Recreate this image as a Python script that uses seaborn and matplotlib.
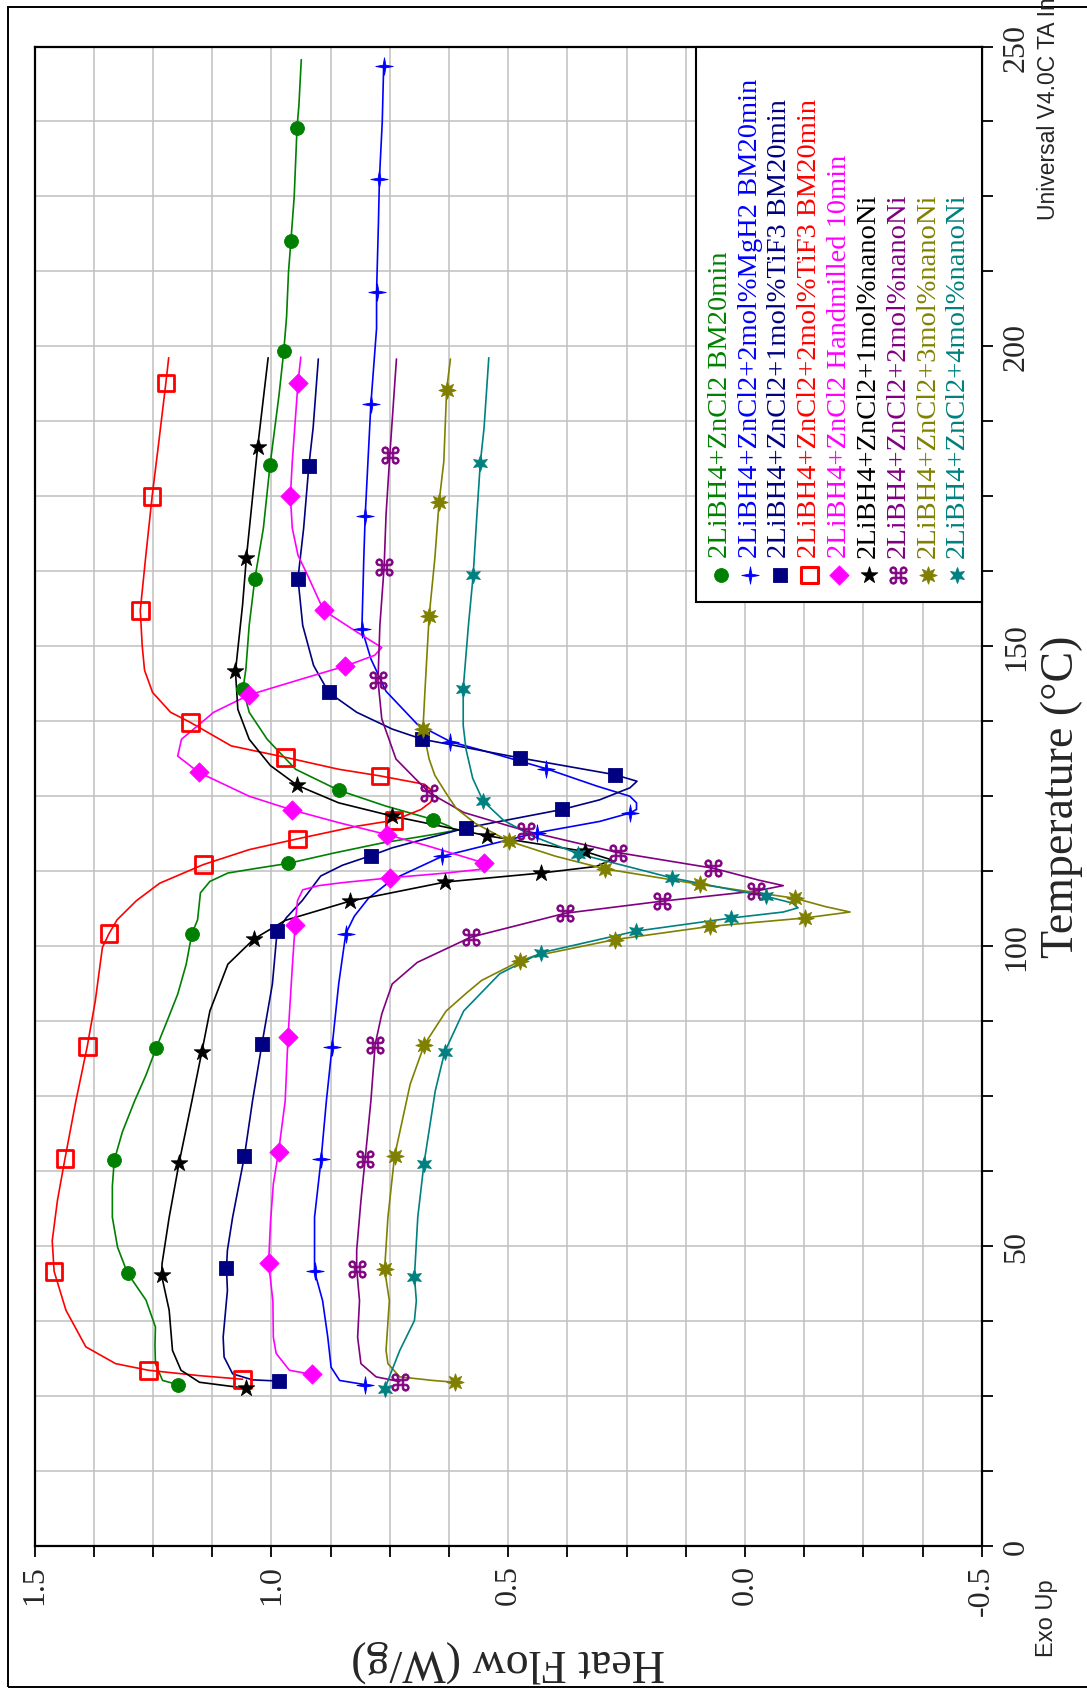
import numpy as np
import matplotlib
matplotlib.use("Agg")
import matplotlib.pyplot as plt
from matplotlib.path import Path
from matplotlib.patches import Rectangle
from matplotlib.ticker import MultipleLocator
import seaborn as sns

# ---------------- data (Temperature in degC, Heat Flow in W/g) ----------------
labels = ["2LiBH4+ZnCl2 BM20min",
          "2LiBH4+ZnCl2+2mol%MgH2 BM20min",
          "2LiBH4+ZnCl2+1mol%TiF3 BM20min",
          "2LiBH4+ZnCl2+2mol%TiF3 BM20min",
          "2LiBH4+ZnCl2 Handmilled 10min",
          "2LiBH4+ZnCl2+1mol%nanoNi",
          "2LiBH4+ZnCl2+2mol%nanoNi",
          "2LiBH4+ZnCl2+3mol%nanoNi",
          "2LiBH4+ZnCl2+4mol%nanoNi"]
colors = ["#008000", "#0000FF", "#000080", "#FF0000", "#FF00FF",
          "#000000", "#800080", "#808000", "#008080"]

g_T = [26.9, 27.6, 30.4, 33.5, 36.5, 41.0, 45.5, 49.8, 54.8, 60.0, 64.3, 69.0, 74.2, 78.5, 83.1, 88.0, 92.0,
       97.0, 102.1, 104.4, 108.9, 110.8, 112.2, 113.0, 113.8, 115.5, 117.2, 118.6, 119.3, 120.0, 121.1, 123.4,
       126.0, 129.5, 134.5, 139.0, 142.9, 146.2, 153.5, 161.3, 169.7, 180.2, 191.9, 199.2, 205.0, 212.4, 217.5,
       224.9, 236.4, 240.2, 247.8]
g_HF = [1.197, 1.230, 1.245, 1.246, 1.245, 1.265, 1.304, 1.325, 1.336, 1.336, 1.332, 1.315, 1.289, 1.265, 1.243,
        1.218, 1.198, 1.180, 1.168, 1.156, 1.150, 1.130, 1.092, 1.030, 0.965, 0.870, 0.767, 0.660, 0.612, 0.625,
        0.658, 0.760, 0.858, 0.949, 1.009, 1.047, 1.060, 1.054, 1.047, 1.035, 1.017, 1.003, 0.984, 0.974, 0.968,
        0.964, 0.959, 0.952, 0.946, 0.942, 0.937]
g_mT = [26.9, 45.5, 64.3, 83.1, 102.1, 113.8, 121.1, 126.0, 142.9, 161.3, 180.2, 199.2, 217.5, 236.4]
g_mHF = [1.197, 1.304, 1.332, 1.243, 1.168, 0.965, 0.658, 0.858, 1.060, 1.035, 1.003, 0.974, 0.959, 0.946]

b_T = [26.9, 27.6, 29.8, 34.8, 40.9, 45.8, 54.8, 64.6, 74.2, 83.2, 93.7, 102.1, 105.0, 108.0, 111.1, 115.0,
       118.9, 120.8, 122.2, 122.8, 123.9, 125.0, 126.7, 129.6, 132.3, 134.1, 137.0, 142.5, 147.9, 152.9, 164.6,
       171.8, 190.4, 203.0, 209.1, 220.7, 227.9, 237.4, 246.8]
b_HF = [0.802, 0.856, 0.874, 0.881, 0.892, 0.909, 0.909, 0.895, 0.884, 0.872, 0.858, 0.843, 0.825, 0.795, 0.745,
        0.639, 0.440, 0.307, 0.243, 0.229, 0.229, 0.243, 0.313, 0.420, 0.539, 0.622, 0.692, 0.758, 0.790, 0.809,
        0.805, 0.802, 0.790, 0.778, 0.778, 0.774, 0.772, 0.766, 0.763]
b_mT = [26.9, 45.8, 64.6, 83.2, 102.1, 115.0, 118.9, 122.2, 129.6, 134.1, 152.9, 171.8, 190.4, 209.1, 227.9, 246.8]
b_mHF = [0.802, 0.909, 0.895, 0.872, 0.843, 0.639, 0.440, 0.243, 0.420, 0.622, 0.809, 0.802, 0.790, 0.778, 0.772, 0.763]

n_T = [27.5, 27.7, 28.7, 31.5, 34.8, 42.6, 46.4, 49.3, 54.8, 65.0, 74.2, 83.7, 93.7, 102.5, 104.8, 107.6, 111.7,
       113.5, 115.1, 116.4, 119.7, 120.8, 122.8, 124.4, 126.4, 127.5, 128.6, 131.4, 134.5, 136.2, 139.0, 142.3,
       146.8, 153.5, 161.3, 169.7, 180.1, 186.4, 197.9]
n_HF = [0.985, 1.040, 1.082, 1.100, 1.102, 1.093, 1.095, 1.093, 1.082, 1.057, 1.040, 1.020, 0.998, 0.988, 0.968,
        0.935, 0.896, 0.850, 0.790, 0.745, 0.590, 0.518, 0.386, 0.307, 0.243, 0.228, 0.275, 0.476, 0.681, 0.745,
        0.820, 0.879, 0.911, 0.934, 0.944, 0.932, 0.921, 0.912, 0.901]
n_mT = [27.5, 46.4, 65.0, 83.7, 102.5, 115.1, 119.7, 122.8, 128.6, 131.4, 134.5, 142.3, 161.3, 180.1]
n_mHF = [0.985, 1.095, 1.057, 1.020, 0.988, 0.790, 0.590, 0.386, 0.275, 0.476, 0.681, 0.879, 0.944, 0.921]

r_T = [27.8, 28.4, 29.3, 30.4, 33.2, 39.3, 45.8, 50.9, 57.6, 64.6, 74.2, 83.3, 90.9, 99.8, 102.1, 104.4, 107.6,
       110.5, 113.6, 116.1, 117.9, 120.0, 121.0, 122.8, 124.0, 125.0, 126.0, 127.0, 128.4, 129.5, 131.5, 133.4,
       137.3, 139.0, 142.3, 146.0, 150.1, 156.0, 164.6, 175.0, 184.0, 193.9, 198.1]
r_HF = [1.061, 1.152, 1.260, 1.329, 1.392, 1.434, 1.459, 1.463, 1.452, 1.436, 1.413, 1.389, 1.372, 1.357, 1.343,
        1.326, 1.285, 1.236, 1.144, 1.047, 0.945, 0.820, 0.741, 0.684, 0.664, 0.658, 0.662, 0.677, 0.771, 0.858,
        0.971, 1.085, 1.171, 1.213, 1.251, 1.268, 1.273, 1.277, 1.266, 1.252, 1.238, 1.223, 1.217]
r_mT = [27.8, 29.3, 45.8, 64.6, 83.3, 102.1, 113.6, 117.9, 121.0, 128.4, 131.5, 137.3, 156.0, 175.0, 193.9]
r_mHF = [1.061, 1.260, 1.459, 1.436, 1.389, 1.343, 1.144, 0.945, 0.741, 0.771, 0.971, 1.171, 1.277, 1.252, 1.223]

m_T = [28.6, 29.3, 32.1, 34.8, 40.9, 47.2, 54.0, 60.4, 65.7, 74.2, 84.9, 96.5, 103.5, 107.6, 109.4, 110.1, 110.6,
       111.4, 112.2, 112.8, 113.9, 116.7, 118.6, 120.6, 122.7, 125.0, 129.0, 131.7, 134.5, 139.0, 141.9, 144.6,
       146.7, 148.5, 149.8, 152.4, 156.0, 161.9, 165.2, 169.7, 175.0, 180.8, 193.9, 198.2]
m_HF = [0.914, 0.962, 0.990, 0.996, 0.997, 1.006, 1.002, 0.996, 0.985, 0.971, 0.965, 0.956, 0.950, 0.945, 0.934,
        0.900, 0.850, 0.749, 0.631, 0.560, 0.552, 0.669, 0.756, 0.858, 0.956, 1.047, 1.154, 1.198, 1.190, 1.122,
        1.047, 0.934, 0.844, 0.782, 0.767, 0.820, 0.890, 0.924, 0.944, 0.956, 0.960, 0.956, 0.944, 0.938]
m_mT = [28.6, 47.2, 65.7, 84.9, 103.5, 111.4, 113.9, 118.6, 122.7, 129.0, 141.9, 146.7, 156.0, 175.0, 193.9]
m_mHF = [0.914, 1.006, 0.985, 0.965, 0.950, 0.749, 0.552, 0.756, 0.956, 1.154, 1.047, 0.844, 0.890, 0.960, 0.944]

k_T = [26.3, 27.3, 29.3, 32.6, 39.3, 45.1, 47.1, 54.8, 63.9, 74.2, 82.4, 89.2, 97.0, 101.2, 104.3, 107.5, 110.7,
       112.2, 113.3, 114.4, 115.8, 118.4, 121.7, 123.9, 126.8, 130.1, 134.5, 139.5, 145.8, 156.9, 164.7, 183.3, 198.1]
k_HF = [1.054, 1.152, 1.191, 1.209, 1.216, 1.232, 1.231, 1.216, 1.195, 1.168, 1.147, 1.130, 1.092, 1.037, 0.971,
        0.835, 0.633, 0.430, 0.314, 0.282, 0.338, 0.544, 0.745, 0.858, 0.945, 1.002, 1.047, 1.071, 1.076, 1.061,
        1.053, 1.029, 1.007]
k_mT = [26.3, 45.1, 63.9, 82.4, 101.2, 107.5, 110.7, 112.2, 115.8, 118.4, 121.7, 126.8, 145.8, 164.7, 183.3]
k_mHF = [1.054, 1.232, 1.195, 1.147, 1.037, 0.835, 0.633, 0.430, 0.338, 0.544, 0.745, 0.945, 1.076, 1.053, 1.029]

p_T = [27.4, 28.2, 30.4, 34.8, 40.9, 46.2, 49.3, 57.6, 64.6, 74.2, 83.6, 88.7, 93.7, 97.3, 101.5, 105.5, 107.5,
       109.2, 110.1, 111.0, 113.0, 115.6, 119.2, 122.3, 125.6, 131.2, 137.9, 144.3, 153.5, 163.3, 171.9, 181.9, 197.9]
p_HF = [0.729, 0.779, 0.811, 0.818, 0.814, 0.820, 0.820, 0.811, 0.802, 0.790, 0.781, 0.767, 0.745, 0.692, 0.579,
        0.379, 0.176, -0.023, -0.081, -0.030, 0.067, 0.268, 0.462, 0.594, 0.667, 0.737, 0.767, 0.775, 0.771, 0.762,
        0.758, 0.750, 0.736]
p_mT = [27.4, 46.2, 64.6, 83.6, 101.5, 105.5, 107.5, 109.2, 113.0, 115.6, 119.2, 125.6, 144.3, 163.3, 181.9]
p_mHF = [0.729, 0.820, 0.802, 0.781, 0.579, 0.379, 0.176, -0.023, 0.067, 0.268, 0.462, 0.667, 0.775, 0.762, 0.750]

o_T = [27.3, 27.6, 28.2, 30.4, 32.6, 40.9, 46.1, 54.8, 65.0, 77.0, 83.6, 89.2, 92.2, 94.3, 97.5, 98.3, 101.1,
       103.3, 104.7, 105.7, 106.6, 108.0, 110.3, 112.9, 115.0, 117.5, 120.5, 123.0, 125.6, 128.5, 131.2, 136.2,
       142.3, 148.0, 155.0, 164.6, 174.0, 180.8, 192.8, 197.9]
o_HF = [0.613, 0.659, 0.729, 0.754, 0.758, 0.751, 0.761, 0.754, 0.740, 0.707, 0.677, 0.631, 0.588, 0.556, 0.476,
        0.448, 0.275, 0.074, -0.126, -0.222, -0.170, -0.105, 0.095, 0.296, 0.400, 0.498, 0.570, 0.610, 0.632,
        0.655, 0.667, 0.680, 0.676, 0.672, 0.667, 0.655, 0.646, 0.636, 0.630, 0.622]
o_mT = [27.3, 46.1, 65.0, 83.6, 97.5, 101.1, 103.3, 104.7, 108.0, 110.3, 112.9, 117.5, 136.2, 155.0, 174.0, 192.8]
o_mHF = [0.613, 0.761, 0.740, 0.677, 0.476, 0.275, 0.074, -0.126, -0.105, 0.095, 0.296, 0.498, 0.680, 0.667,
         0.646, 0.630]

t_T = [26.1, 28.2, 32.6, 37.6, 40.9, 44.9, 54.8, 63.7, 75.9, 82.4, 89.2, 95.4, 98.9, 102.5, 104.7, 105.7, 106.4,
       107.2, 108.3, 111.4, 115.4, 118.3, 121.0, 124.2, 128.0, 132.8, 136.8, 142.9, 153.5, 161.8, 170.8, 180.5,
       186.4, 198.1]
t_HF = [0.761, 0.751, 0.729, 0.698, 0.694, 0.698, 0.691, 0.678, 0.654, 0.634, 0.594, 0.518, 0.431, 0.231, 0.029,
        -0.081, -0.112, -0.100, -0.045, 0.155, 0.352, 0.447, 0.510, 0.553, 0.575, 0.589, 0.595, 0.595, 0.584,
        0.574, 0.567, 0.559, 0.551, 0.541]
t_mT = [26.1, 44.9, 63.7, 82.4, 98.9, 102.5, 104.7, 108.3, 111.4, 115.4, 124.2, 142.9, 161.9, 180.5]
t_mHF = [0.761, 0.698, 0.678, 0.634, 0.431, 0.231, 0.029, -0.045, 0.155, 0.352, 0.553, 0.595, 0.575, 0.559]

hf_ticks = [1.5, 1.0, 0.5, 0.0, -0.5]
hf_ticklabels = ["1.5", "1.0", "0.5", "0.0", "-0.5"]
t_ticks = [0, 50, 100, 150, 200, 250]
t_ticklabels = ["0", "50", "100", "150", "200", "250"]


# ---------------- marker shapes ----------------
def star_path(npts, inner):
    k = np.arange(2 * npts)
    ang = np.pi / 2 + k * np.pi / npts
    rad = np.where(k % 2 == 0, 1.0, inner)
    v = np.column_stack([rad * np.cos(ang), rad * np.sin(ang)])
    v = np.vstack([v, v[:1]])
    codes = [Path.MOVETO] + [Path.LINETO] * (2 * npts - 1) + [Path.CLOSEPOLY]
    return Path(v, codes)


# (marker, size_pt, open?)
mstyles = [("o", 10, False),
           (star_path(4, 0.22), 12.5, False),
           ("s", 10, False),
           ("s", 12, True),
           ("D", 9.8, False),
           ("*", 12.5, False),
           ("$\u2318$", 12.5, False),
           (star_path(8, 0.5), 12.5, False),
           (star_path(6, 0.45), 11.5, False)]

series = [(g_T, g_HF, g_mT, g_mHF), (b_T, b_HF, b_mT, b_mHF), (n_T, n_HF, n_mT, n_mHF),
          (r_T, r_HF, r_mT, r_mHF), (m_T, m_HF, m_mT, m_mHF), (k_T, k_HF, k_mT, k_mHF),
          (p_T, p_HF, p_mT, p_mHF), (o_T, o_HF, o_mT, o_mHF), (t_T, t_HF, t_mT, t_mHF)]

# ---------------- figure ----------------
sns.set_style("white")
plt.rcParams["font.family"] = ["Liberation Serif", "DejaVu Serif"]
plt.rcParams["mathtext.fontset"] = "dejavusans"

W, H = 1087, 1690
fig = plt.figure(figsize=(W / 100, H / 100), dpi=100)
AX_L, AX_R, AX_T, AX_B = 34.7, 981.7, 47.5, 1547.0
ax = fig.add_axes([AX_L / W, 1 - AX_B / H, (AX_R - AX_L) / W, (AX_B - AX_T) / H])

for (T, HF, mT, mHF), col, (mk, ms, is_open) in zip(series, colors, mstyles):
    sns.lineplot(x=HF, y=T, sort=False, estimator=None, orient="y", color=col,
                 linewidth=1.2, ax=ax, zorder=3)
    if is_open:
        sns.scatterplot(x=mHF, y=mT, marker=mk, s=ms ** 2, color=col, facecolor="none",
                        edgecolor=col, linewidth=2.0, ax=ax, zorder=4)
    else:
        sns.scatterplot(x=mHF, y=mT, marker=mk, s=ms ** 2, color=col, edgecolor=col,
                        linewidth=0.6, ax=ax, zorder=4)

ax.set_xlim(1.5, -0.5)
ax.set_ylim(0, 250)

ax.set_xticks(hf_ticks)
ax.set_xticklabels(hf_ticklabels, rotation=90, fontsize=23)
ax.xaxis.set_minor_locator(MultipleLocator(0.125))
ax.yaxis.tick_right()
ax.set_yticks(t_ticks)
ax.set_yticklabels(t_ticklabels, rotation=90, va="center", fontsize=23)
ax.yaxis.set_minor_locator(MultipleLocator(12.5))

ax.tick_params(which="both", direction="out", length=8, width=1.3, color="black")
ax.tick_params(axis="x", which="both", bottom=True, top=False, pad=5)
ax.tick_params(axis="y", which="both", right=True, left=False, labelright=True,
               labelleft=False, pad=6.5)

ax.set_axisbelow(True)
ax.grid(which="both", color="#c0c0c0", linewidth=1.1)
for sp in ax.spines.values():
    sp.set_visible(True)
    sp.set_color("black")
    sp.set_linewidth(1.6)

ax.set_xlabel("Heat Flow (W/g)", fontsize=33, rotation=180, va="center", ha="center")
ax.xaxis.set_label_coords(0.5, -(1661 - AX_B) / (AX_B - AX_T))
ax.yaxis.set_label_position("right")
ax.set_ylabel("Temperature (\u00b0C)", fontsize=33, rotation=90, va="center", ha="center")
ax.yaxis.set_label_coords((1062 - AX_L) / (AX_R - AX_L), 0.5)

# ---------------- legend (rotated, drawn by hand) ----------------
def ax_x(px):
    return (px - AX_L) / (AX_R - AX_L)


def ax_y(py):
    return 1 - (py - AX_T) / (AX_B - AX_T)


ax.add_patch(Rectangle((ax_x(696), ax_y(603)), 1 - ax_x(696), 1 - ax_y(603),
                       transform=ax.transAxes, facecolor="white", edgecolor="black",
                       linewidth=1.5, zorder=10, clip_on=False))
for i, (lab, col, (mk, ms, is_open)) in enumerate(zip(labels, colors, mstyles)):
    lx = ax_x(720.7 + 29.6 * i)
    if is_open:
        ax.scatter([lx], [ax_y(576)], marker=mk, s=ms ** 2, facecolor="none", edgecolor=col,
                   linewidth=2.2, transform=ax.transAxes, zorder=11, clip_on=False)
    else:
        ax.scatter([lx], [ax_y(576)], marker=mk, s=ms ** 2, color=col, edgecolor=col,
                   linewidth=0.6, transform=ax.transAxes, zorder=11, clip_on=False)
    ax.text(lx, ax_y(558), lab, transform=ax.transAxes, rotation=90, ha="center",
            va="bottom", fontsize=20.5, color=col, zorder=11)

# ---------------- extra figure texts and frame ----------------
fig.text(1048.5 / W, 1 - 220 / H, "Universal V4.0C TA Instruments", rotation=90,
         ha="center", va="bottom", fontsize=16.5, family=["Liberation Sans", "DejaVu Sans"])
fig.text(1046.5 / W, 1 - 1657 / H, "Exo Up", rotation=90, ha="center", va="bottom",
         fontsize=17, family=["Liberation Sans", "DejaVu Sans"])
fig.add_artist(Rectangle((8 / W, 2 / H), 1.2, (1688 - 8) / H, transform=fig.transFigure,
                         fill=False, edgecolor="black", linewidth=1.4))

fig.savefig("out.png", dpi=100)
